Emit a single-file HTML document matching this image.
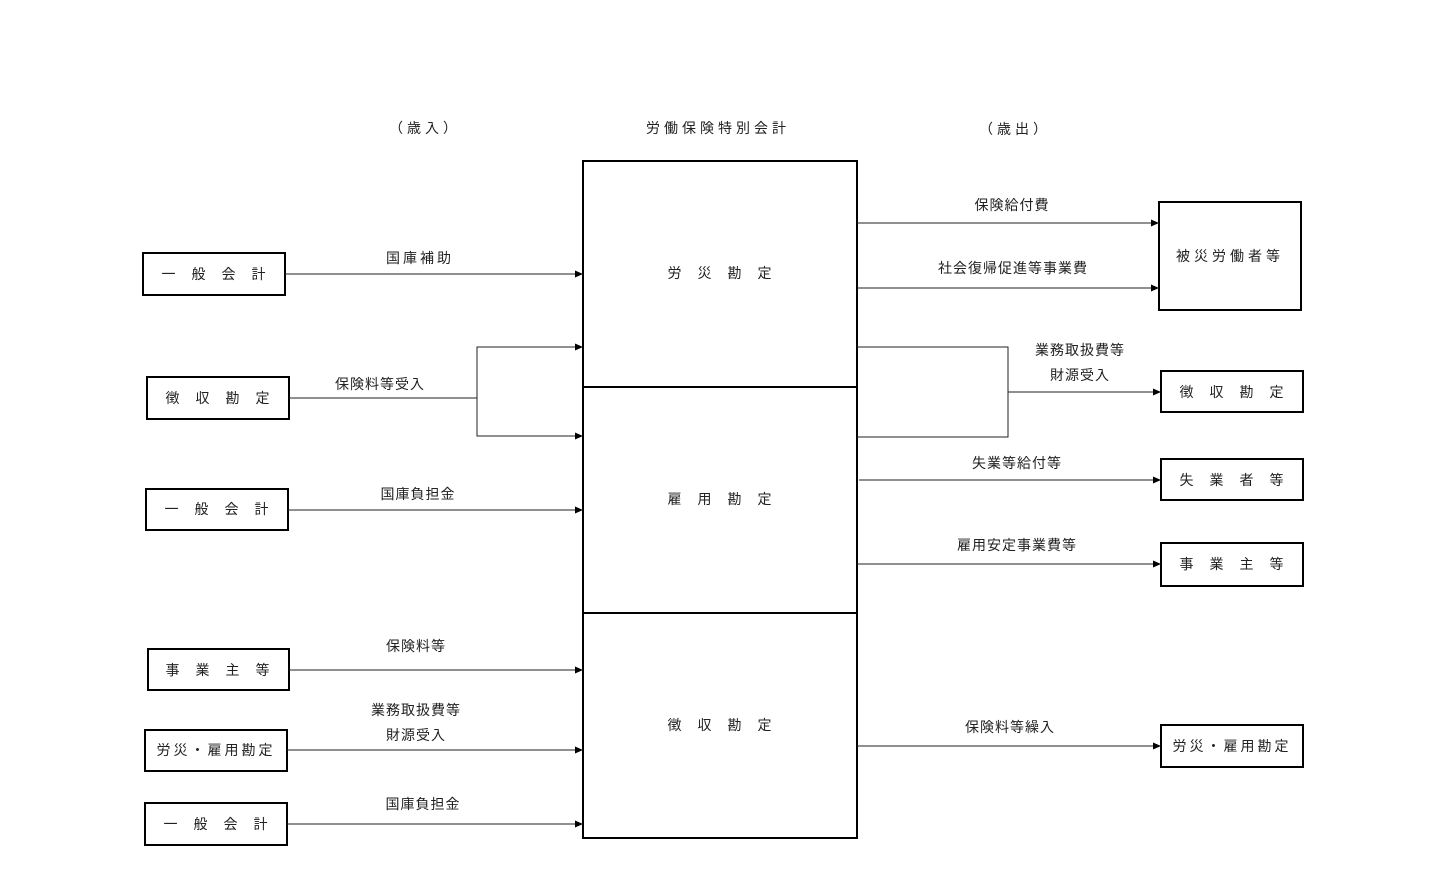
<!DOCTYPE html>
<html><head><meta charset="utf-8"><style>
html,body{margin:0;padding:0;background:#fff}
svg text{font-family:"Liberation Sans","Noto Sans CJK JP",sans-serif;font-size:14px;fill:#222;text-anchor:middle;dominant-baseline:central;letter-spacing:1px}
</style></head><body>
<svg width="1441" height="876" viewBox="0 0 1441 876" xmlns="http://www.w3.org/2000/svg">
<defs><marker id="a" markerWidth="8" markerHeight="8" refX="8" refY="4" orient="auto" markerUnits="userSpaceOnUse"><path d="M0,0.5 L8,4 L0,7.5 z" fill="#000"/></marker></defs>
<g fill="none" stroke="#000" stroke-width="2">
<rect x="583" y="161" width="274" height="677"/>
<line x1="583" y1="387" x2="857" y2="387"/>
<line x1="583" y1="613" x2="857" y2="613"/>
<rect x="143" y="253" width="142" height="42"/>
<rect x="147" y="377" width="142" height="42"/>
<rect x="146" y="489" width="142" height="41"/>
<rect x="148" y="649" width="141" height="41"/>
<rect x="145" y="730" width="142" height="41"/>
<rect x="145" y="803" width="142" height="42"/>
<rect x="1159" y="202" width="142" height="108"/>
<rect x="1161" y="371" width="142" height="41"/>
<rect x="1161" y="459" width="142" height="41"/>
<rect x="1161" y="543" width="142" height="43"/>
<rect x="1161" y="725" width="142" height="42"/>
</g>
<g fill="none" stroke="#222" stroke-width="1">
<line x1="285" y1="274" x2="583" y2="274" marker-end="url(#a)"/>
<polyline points="289,398 477,398"/>
<polyline points="583,347 477,347 477,436 583,436"/>
<line x1="477" y1="347" x2="583" y2="347" marker-end="url(#a)"/>
<line x1="477" y1="436" x2="583" y2="436" marker-end="url(#a)"/>
<line x1="288" y1="510" x2="583" y2="510" marker-end="url(#a)"/>
<line x1="289" y1="670" x2="583" y2="670" marker-end="url(#a)"/>
<line x1="287" y1="750" x2="583" y2="750" marker-end="url(#a)"/>
<line x1="287" y1="824" x2="583" y2="824" marker-end="url(#a)"/>
<line x1="857" y1="223" x2="1159" y2="223" marker-end="url(#a)"/>
<line x1="857" y1="288" x2="1159" y2="288" marker-end="url(#a)"/>
<polyline points="857,347 1008,347 1008,437 857,437"/>
<line x1="1008" y1="392" x2="1161" y2="392" marker-end="url(#a)"/>
<line x1="859" y1="480" x2="1161" y2="480" marker-end="url(#a)"/>
<line x1="857" y1="564" x2="1161" y2="564" marker-end="url(#a)"/>
<line x1="857" y1="746" x2="1161" y2="746" marker-end="url(#a)"/>
</g>
<text x="425" y="128" style="letter-spacing:4px">（歳入）</text>
<text x="718" y="128" style="letter-spacing:4px">労働保険特別会計</text>
<text x="1015" y="129" style="letter-spacing:4px">（歳出）</text>
<text x="720" y="273">労　災　勘　定</text>
<text x="720" y="499">雇　用　勘　定</text>
<text x="720" y="725">徴　収　勘　定</text>
<text x="214" y="274">一　般　会　計</text>
<text x="218" y="398">徴　収　勘　定</text>
<text x="217" y="509">一　般　会　計</text>
<text x="218" y="670">事　業　主　等</text>
<text x="216" y="750" style="letter-spacing:3px">労災・雇用勘定</text>
<text x="216" y="824">一　般　会　計</text>
<text x="1230" y="256" style="letter-spacing:4px">被災労働者等</text>
<text x="1232" y="392">徴　収　勘　定</text>
<text x="1232" y="480">失　業　者　等</text>
<text x="1232" y="564">事　業　主　等</text>
<text x="1232" y="746" style="letter-spacing:3px">労災・雇用勘定</text>
<text x="420" y="258" style="letter-spacing:3px">国庫補助</text>
<text x="380" y="384">保険料等受入</text>
<text x="418" y="494">国庫負担金</text>
<text x="416" y="646">保険料等</text>
<text x="416" y="710">業務取扱費等</text>
<text x="416" y="735">財源受入</text>
<text x="423" y="804">国庫負担金</text>
<text x="1012" y="205">保険給付費</text>
<text x="1013" y="268">社会復帰促進等事業費</text>
<text x="1080" y="350">業務取扱費等</text>
<text x="1080" y="375">財源受入</text>
<text x="1017" y="463">失業等給付等</text>
<text x="1017" y="545">雇用安定事業費等</text>
<text x="1010" y="727">保険料等繰入</text>
</svg>
</body></html>
